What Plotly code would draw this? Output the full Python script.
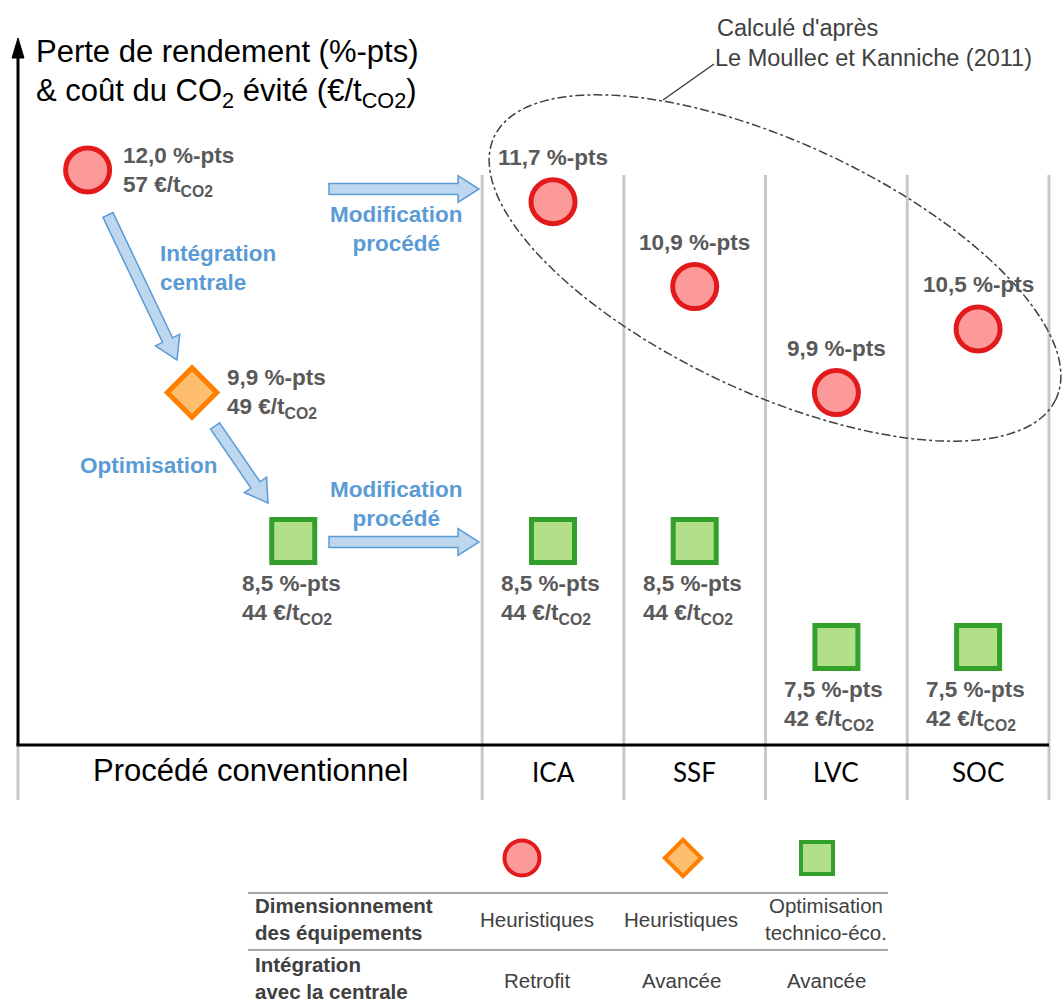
import numpy as np
import plotly.graph_objects as go

# --- donnees ---------------------------------------------------------------
procedes = ["ICA", "SSF", "LVC", "SOC"]
perte_retrofit = [11.7, 10.9, 9.9, 10.5]
perte_optim = [8.5, 8.5, 7.5, 7.5]
cout_optim = [44, 44, 42, 42]

# procede conventionnel : retrofit -> integration avancee -> optimisation
perte_conv = [12.0, 9.9, 8.5]
cout_conv = [57, 49, 44]

cat_conv = "Procédé conventionnel"
fleches_labels = ["Intégration<br>centrale", "Optimisation", "Modification<br>procédé"]
legende_lignes = ["Dimensionnement<br>des équipements", "Intégration<br>avec la centrale"]
legende_dim = ["Heuristiques", "Heuristiques", "Optimisation<br>technico-éco."]
legende_integ = ["Retrofit", "Avancée", "Avancée"]
source = ["Calculé d'après", "Le Moullec et Kanniche (2011)"]

# --- mise en page (pixels) ----------------------------------------------------
W, H = 1062, 1003
PX_PT = 106.0          # pixels par %-pt
Y0_PX = 1442.0         # position pixel de 0 %-pt
COL_W = 141.7          # largeur d'une colonne procede
X1_PX = 553.0          # centre de la colonne ICA (x = 1)
AX_LEFT, AX_BOTTOM = 18, 745

yrange = [(Y0_PX - H) / PX_PT, Y0_PX / PX_PT]
xrange = [1 - X1_PX / COL_W, 1 + (W - X1_PX) / COL_W]


def px2x(p):
    return 1 + (p - X1_PX) / COL_W


def x2px(x):
    return X1_PX + (x - 1) * COL_W


# positions des etapes dans la zone "procede conventionnel"
conv_left, conv_right = AX_LEFT, x2px(0.5)
conv_frac = [0.15, 0.375, 0.593]
x_conv = [px2x(conv_left + f * (conv_right - conv_left)) for f in conv_frac]
x_proc = list(range(1, len(procedes) + 1))

RED_F, RED_L = "#FB9A99", "#E31A1C"
ORA_F, ORA_L = "#FDBF6F", "#FF7F00"
GRE_F, GRE_L = "#B2DF8A", "#33A02C"
BLUE_F, BLUE_L = "#BDD7EE", "#5B9BD5"
TXT = "#595959"
FONT = "Liberation Sans, Arial"
LAB_SIZE = 22.5

fig = go.Figure()

styles = [("circle", 44, RED_F, RED_L), ("diamond", 38, ORA_F, ORA_L), ("square", 43, GRE_F, GRE_L)]

# points du procede conventionnel
for i, (sym, sz, fc, lc) in enumerate(styles):
    fig.add_trace(go.Scatter(
        x=[x_conv[i]], y=[perte_conv[i]], mode="markers",
        marker=dict(symbol=sym, size=sz, color=fc, line=dict(color=lc, width=5)),
        hoverinfo="skip"))

# procedes modifies
fig.add_trace(go.Scatter(
    x=x_proc, y=perte_retrofit, mode="markers",
    marker=dict(symbol="circle", size=44, color=RED_F, line=dict(color=RED_L, width=5)),
    hoverinfo="skip"))
fig.add_trace(go.Scatter(
    x=x_proc, y=perte_optim, mode="markers",
    marker=dict(symbol="square", size=43, color=GRE_F, line=dict(color=GRE_L, width=5)),
    hoverinfo="skip"))

# legende du tableau (axes en pixels)
leg_x = [522, 683, 817]
leg_sizes = [35, 28, 32]
for i, (sym, sz, fc, lc) in enumerate(styles):
    fig.add_trace(go.Scatter(
        x=[leg_x[i]], y=[858], mode="markers", xaxis="x2", yaxis="y2",
        marker=dict(symbol=sym, size=leg_sizes[i], color=fc, line=dict(color=lc, width=4)),
        hoverinfo="skip"))


def fmt(v):
    return f"{v:.1f}".replace(".", ",")


annotations = []


def lab(x, y, text, **kw):
    d = dict(x=x, y=y, xref="x", yref="y", text=text, showarrow=False,
             font=dict(family=FONT, size=LAB_SIZE, color=TXT), align="left")
    d.update(kw)
    annotations.append(d)


# etiquettes conventionnel
for i in range(2):
    lab(x_conv[i], perte_conv[i],
        f"<b>{fmt(perte_conv[i])} %-pts<br>{cout_conv[i]} €/t<sub>CO2</sub></b>",
        xanchor="left", yanchor="middle", xshift=33, yshift=-1)
lab(x_conv[2], perte_conv[2],
    f"<b>{fmt(perte_conv[2])} %-pts<br>{cout_conv[2]} €/t<sub>CO2</sub></b>",
    xanchor="left", yanchor="top", xshift=-53, yshift=-28)

for i, x in enumerate(x_proc):
    lab(x, perte_retrofit[i], f"<b>{fmt(perte_retrofit[i])} %-pts</b>",
        xanchor="center", yanchor="bottom", yshift=30)
    lab(x, perte_optim[i],
        f"<b>{fmt(perte_optim[i])} %-pts<br>{cout_optim[i]} €/t<sub>CO2</sub></b>",
        xanchor="left", yanchor="top", xshift=-54, yshift=-28)


def txt(px, py, text, size=LAB_SIZE, color=TXT, xanchor="left", yanchor="middle", family=FONT, align="left"):
    annotations.append(dict(x=px, y=py, xref="x2", yref="y2", text=text, showarrow=False,
                            xanchor=xanchor, yanchor=yanchor, align=align,
                            font=dict(family=family, size=size, color=color)))


# titre de l'axe
txt(34, 51, "Perte de rendement (%-pts)", size=31, color="black")
txt(34, 93, "& coût du CO<sub>2</sub> évité (€/t<sub>CO2</sub>)", size=31, color="black")

# source
txt(715, 28, source[0], size=23.5, color="#404040")
txt(713, 58, source[1], size=23.5, color="#404040")

# libelles des fleches
txt(158, 268, f"<b>{fleches_labels[0]}</b>", color=BLUE_L)
txt(78, 465, f"<b>{fleches_labels[1]}</b>", color=BLUE_L)
txt(396, 229, f"<b>{fleches_labels[2]}</b>", color=BLUE_L, xanchor="center", align="center")
txt(396, 504, f"<b>{fleches_labels[2]}</b>", color=BLUE_L, xanchor="center", align="center")

# categories
txt((conv_left + conv_right) / 2, 770, cat_conv, size=31, color="black", xanchor="center")
for i, p in enumerate(procedes):
    annotations.append(dict(x=x_proc[i], y=772, xref="x", yref="y2", text=p, showarrow=False,
                            xanchor="center", yanchor="middle",
                            font=dict(family="Lato", size=26, color="black")))

# tableau
TAB = 20.5
txt(253, 919, f"<b>{legende_lignes[0]}</b>", size=TAB, color="#404040")
txt(253, 978, f"<b>{legende_lignes[1]}</b>", size=TAB, color="#404040")
col_x = [537, 681, 826]
for i in range(3):
    txt(col_x[i], 919, legende_dim[i], size=TAB, color="#404040", xanchor="center", align="center")
    txt(col_x[i], 980, legende_integ[i], size=TAB, color="#404040", xanchor="center", align="center")

# --- formes -----------------------------------------------------------------
shapes = []


def path_from(pts, close=True):
    s = "M " + " L ".join(f"{x:.1f},{y:.1f}" for x, y in pts)
    return s + (" Z" if close else "")


def fleche(x0, y0, x1, y1, shaft=11, head=27, head_len=22):
    dx, dy = x1 - x0, y1 - y0
    L = np.hypot(dx, dy)
    ux, uy = dx / L, dy / L
    nx, ny = -uy, ux
    bx, by = x1 - ux * head_len, y1 - uy * head_len
    pts = [(x0 + nx * shaft / 2, y0 + ny * shaft / 2), (bx + nx * shaft / 2, by + ny * shaft / 2),
           (bx + nx * head / 2, by + ny * head / 2), (x1, y1),
           (bx - nx * head / 2, by - ny * head / 2), (bx - nx * shaft / 2, by - ny * shaft / 2),
           (x0 - nx * shaft / 2, y0 - ny * shaft / 2)]
    shapes.append(dict(type="path", xref="x2", yref="y2", path=path_from(pts),
                       fillcolor=BLUE_F, line=dict(color=BLUE_L, width=1.5), layer="below"))


fleche(108, 215, 177, 360)
fleche(215, 426, 268, 503)
fleche(329, 189, 479, 189, shaft=11, head=27, head_len=21)
fleche(329, 542, 479, 542, shaft=11, head=27, head_len=21)

# separateurs de colonnes
for b in np.arange(0.5, len(procedes) + 1, 1.0):
    shapes.append(dict(type="line", xref="x", yref="y2", x0=b, x1=b, y0=175, y1=800,
                       line=dict(color="#C8C8C8", width=3), layer="below"))
shapes.append(dict(type="line", xref="x2", yref="y2", x0=AX_LEFT, x1=AX_LEFT, y0=AX_BOTTOM, y1=800,
                   line=dict(color="#C8C8C8", width=3), layer="below"))

# axes
shapes.append(dict(type="line", xref="x2", yref="y2", x0=AX_LEFT, x1=AX_LEFT, y0=AX_BOTTOM, y1=50,
                   line=dict(color="black", width=3)))
shapes.append(dict(type="path", xref="x2", yref="y2",
                   path=path_from([(AX_LEFT - 6, 58), (AX_LEFT, 38), (AX_LEFT + 6, 58)]),
                   fillcolor="black", line=dict(color="black", width=1)))
shapes.append(dict(type="line", xref="x2", yref="y2", x0=AX_LEFT - 1.5, x1=x2px(4.5), y0=AX_BOTTOM, y1=AX_BOTTOM,
                   line=dict(color="black", width=3)))

# ellipse (Le Moullec et Kanniche)
t = np.linspace(0, 2 * np.pi, 200)
cx, cy, a, b, th = 775, 268, 310, 125, np.deg2rad(25)
ex = cx + a * np.cos(t) * np.cos(th) - b * np.sin(t) * np.sin(th)
ey = cy + a * np.cos(t) * np.sin(th) + b * np.sin(t) * np.cos(th)
shapes.append(dict(type="path", xref="x2", yref="y2", path=path_from(zip(ex, ey)),
                   line=dict(color="#404040", width=1.5, dash="dashdot")))
shapes.append(dict(type="line", xref="x2", yref="y2", x0=663, y0=100, x1=714, y1=64,
                   line=dict(color="#404040", width=1.5)))

# lignes du tableau
for yy in (893, 950):
    shapes.append(dict(type="line", xref="x2", yref="y2", x0=248, x1=888, y0=yy, y1=yy,
                       line=dict(color="#A6A6A6", width=2)))

fig.update_layout(
    width=W, height=H,
    margin=dict(l=0, r=0, t=0, b=0),
    paper_bgcolor="white", plot_bgcolor="white",
    showlegend=False,
    xaxis=dict(range=xrange, visible=False, fixedrange=True),
    yaxis=dict(range=yrange, visible=False, fixedrange=True),
    xaxis2=dict(range=[0, W], overlaying="x", visible=False, fixedrange=True),
    yaxis2=dict(range=[H, 0], overlaying="y", visible=False, fixedrange=True),
    shapes=shapes,
    annotations=annotations,
    font=dict(family=FONT),
)

# la page ajoute une marge de 8 px par defaut : on la retire
fig.write_html("out.html", config={"displayModeBar": False},
               post_script="document.body.style.margin='0px';")
